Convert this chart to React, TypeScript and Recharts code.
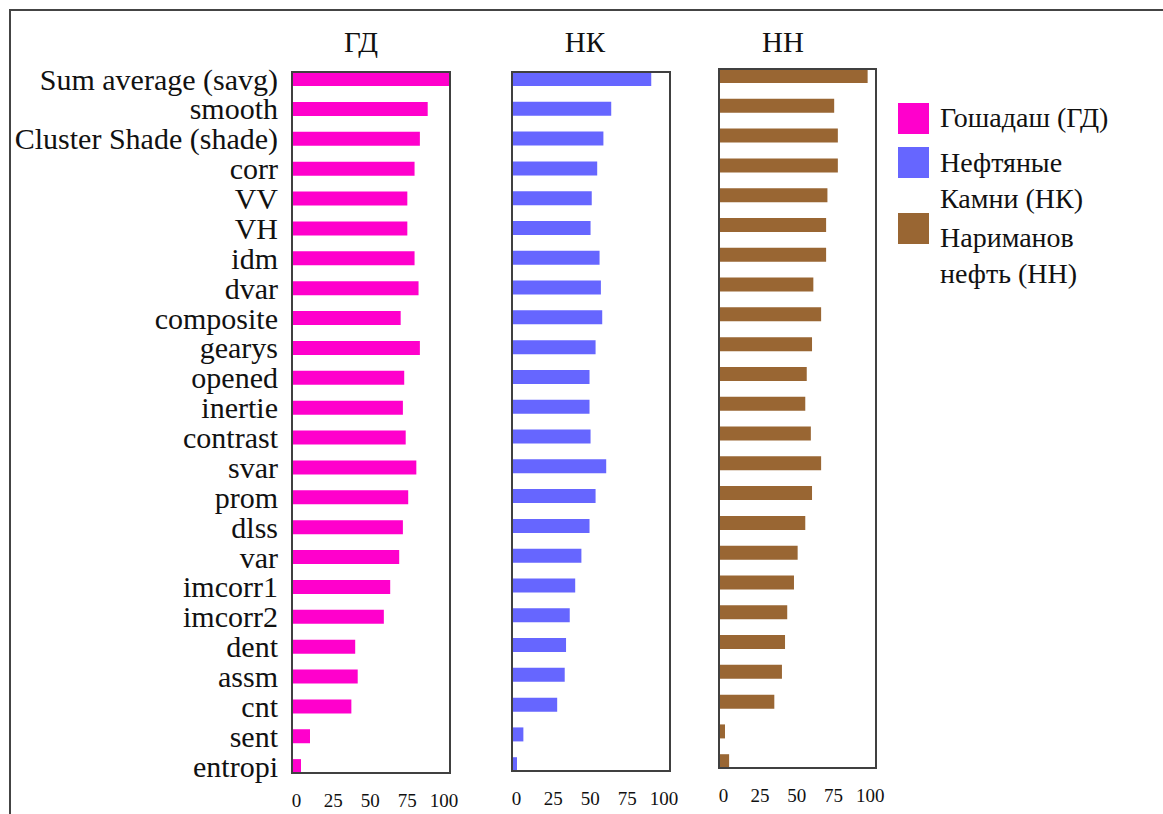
import { BarChart, Bar, XAxis, YAxis } from "recharts";

// feature names, top to bottom
const categories = [
  "Sum average (savg)", "smooth", "Cluster Shade (shade)", "corr", "VV", "VH",
  "idm", "dvar", "composite", "gearys", "opened", "inertie", "contrast", "svar",
  "prom", "dlss", "var", "imcorr1", "imcorr2", "dent", "assm", "cnt", "sent", "entropi",
];

const gdValues = [104, 88.9, 83.6, 80.0, 75.1, 75.1, 80.0, 82.7, 70.6, 83.6, 73.0, 72.1, 74.0, 81.2, 75.7, 72.1, 69.6, 63.5, 59.2, 39.8, 41.5, 37.2, 9.2, 3.1];
const nkValues = [91.3, 64.2, 58.9, 54.7, 51.0, 50.2, 56.3, 57.2, 58.1, 53.6, 49.5, 49.5, 50.2, 60.8, 53.6, 49.5, 44.0, 39.8, 36.1, 33.6, 32.7, 27.6, 4.7, 0.4];
const nnValues = [98.3, 75.5, 78.0, 78.0, 70.9, 70.0, 70.0, 61.3, 66.6, 60.4, 56.8, 55.8, 59.6, 66.6, 60.4, 55.8, 50.6, 48.1, 43.5, 42.0, 39.9, 34.7, 1.1, 3.9];

const xTicks = [0, 25, 50, 75, 100];
const xDomain = [-3, 104];

const panelTitles = ["ГД", "НК", "НН"];
const seriesNames = ["Гошадаш (ГД)", "Нефтяные Камни (НК)", "Нариманов нефть (НН)"];
const seriesColors = ["#ff00cc", "#6666ff", "#996633"];

const rows = categories.map((name, i) => ({
  name,
  gd: gdValues[i],
  nk: nkValues[i],
  nn: nnValues[i],
}));

const FONT = '"Liberation Serif", serif';
const H = 814;
const AXIS_H = 40;
const frame = "#404040";

interface PanelProps {
  dataKey: "gd" | "nk" | "nn";
  color: string;
  x0: number;
  x1: number;
  top: number;
  bottom: number;
  labels?: boolean;
}

function Panel({ dataKey, color, x0, x1, top, bottom, labels }: PanelProps) {
  const left = labels ? 0 : x0 - 10;
  const padL = labels ? 0 : 10;
  return (
    <>
      <div style={{ position: "absolute", left, top: 0 }}>
        <BarChart
          layout="vertical"
          width={x1 + 12 - left}
          height={H}
          data={rows}
          margin={{ top, right: 12, bottom: H - bottom - AXIS_H, left: padL }}
          barSize={14}
          style={{ fontFamily: FONT }}
        >
          <XAxis
            type="number"
            domain={xDomain}
            ticks={xTicks}
            allowDataOverflow
            height={AXIS_H}
            tickLine={false}
            tickSize={0}
            tickMargin={21}
            axisLine={false}
            tick={{ fill: "#111", fontSize: 19, fontFamily: FONT }}
          />
          <YAxis
            type="category"
            dataKey="name"
            interval={0}
            width={labels ? x0 : 0}
            padding={{ top: -8, bottom: -8 }}
            tickLine={false}
            tickSize={0}
            tickMargin={14}
            axisLine={false}
            tick={labels ? { fill: "#111", fontSize: 30, fontFamily: FONT } : false}
          />
          <Bar
            dataKey={(d: any) => [xDomain[0], d[dataKey]]}
            fill={color}
            isAnimationActive={false}
          />
        </BarChart>
      </div>
      {/* panel frame around the plot area */}
      <div
        style={{
          position: "absolute",
          left: x0 - 1,
          top: top - 1,
          width: x1 - x0 + 2,
          height: bottom - top + 2,
          boxSizing: "border-box",
          border: `2px solid ${frame}`,
          pointerEvents: "none",
        }}
      />
    </>
  );
}

const titleCenters = [361, 585, 783];
const legendTops = [100, 145, 220];
const squareTops = [103, 147, 213];

export default function App() {
  return (
    <div
      style={{
        position: "absolute",
        left: 0,
        top: 0,
        width: 1163,
        height: H,
        background: "#fff",
        overflow: "hidden",
        fontFamily: FONT,
        color: "#111",
      }}
    >
      <div
        style={{
          position: "absolute",
          left: 9,
          top: 9,
          width: 1160,
          height: 810,
          borderTop: "2px solid #444",
          borderLeft: "2px solid #444",
        }}
      />
      {panelTitles.map((t, i) => (
        <div
          key={t}
          style={{
            position: "absolute",
            left: titleCenters[i] - 50,
            width: 100,
            top: 28,
            fontSize: 29,
            lineHeight: 1,
            textAlign: "center",
          }}
        >
          {t}
        </div>
      ))}
      <Panel dataKey="gd" color={seriesColors[0]} x0={292} x1={450} top={72} bottom={773} labels />
      <Panel dataKey="nk" color={seriesColors[1]} x0={512} x1={670} top={72} bottom={771} />
      <Panel dataKey="nn" color={seriesColors[2]} x0={719} x1={876} top={69} bottom={768} />
      {seriesNames.map((n, i) => (
        <div key={n}>
          <div
            style={{
              position: "absolute",
              left: 898,
              top: squareTops[i],
              width: 31,
              height: 31,
              background: seriesColors[i],
            }}
          />
          <div
            style={{
              position: "absolute",
              left: 940,
              top: legendTops[i],
              width: 185,
              fontSize: 28,
              lineHeight: "36px",
            }}
          >
            {n}
          </div>
        </div>
      ))}
    </div>
  );
}
